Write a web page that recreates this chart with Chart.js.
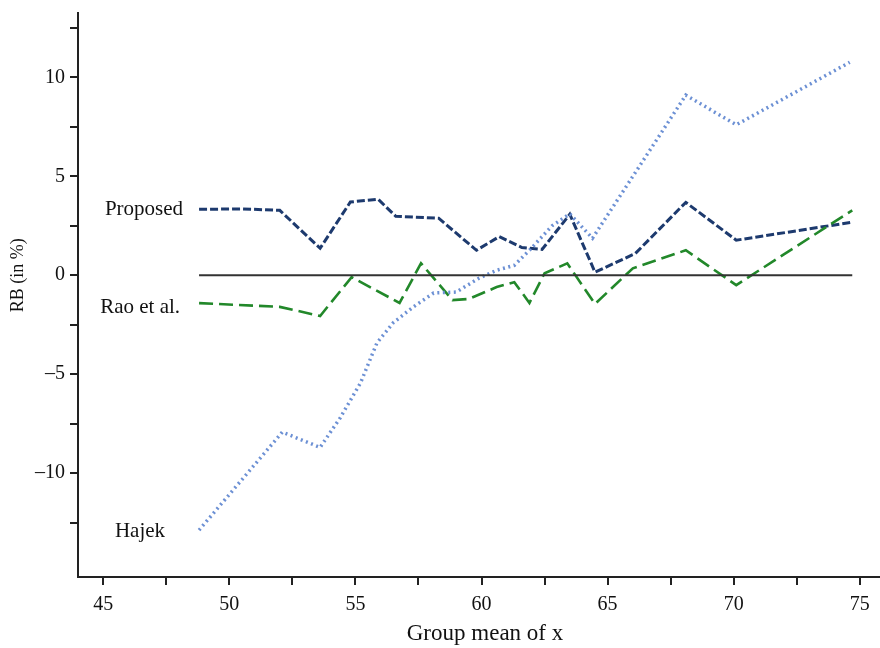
<!DOCTYPE html>
<html>
<head>
<meta charset="utf-8">
<script src="https://cdn.jsdelivr.net/npm/chart.js@4/dist/chart.umd.min.js"></script>
<style>
  html, body { margin: 0; padding: 0; background: #ffffff; }
  #wrap { width: 880px; height: 648px; }
</style>
</head>
<body>
<div id="wrap"><canvas id="c" width="880" height="648"></canvas></div>
<script>
// ---- data ----
const seriesNames = ["Proposed", "Rao et al.", "Hajek"];

const proposedX = [48.8, 50.5, 52.0, 53.6, 54.8, 55.9, 56.6, 58.3, 59.8, 60.7, 61.6, 62.4, 63.5, 64.5, 66.1, 68.1, 70.1, 74.7];
const proposedY = [3.33, 3.35, 3.28, 1.36, 3.70, 3.84, 2.98, 2.88, 1.26, 1.95, 1.40, 1.30, 3.08, 0.15, 1.10, 3.68, 1.77, 2.68];

const raoX = [48.8, 52.0, 53.6, 54.85, 56.75, 57.6, 58.85, 59.5, 60.6, 61.3, 61.9, 62.5, 63.4, 64.5, 66.0, 68.1, 70.1, 74.7];
const raoY = [-1.41, -1.6, -2.06, -0.1, -1.4, 0.6, -1.26, -1.2, -0.6, -0.35, -1.4, 0.1, 0.6, -1.45, 0.35, 1.26, -0.5, 3.28];

const hajekX = [48.8, 52.1, 53.6, 54.4, 55.2, 55.85, 56.5, 57.3, 58.1, 59.0, 59.9, 60.6, 61.3, 61.9, 62.8, 63.5, 64.4, 68.1, 70.1, 74.6];
const hajekY = [-12.88, -7.93, -8.7, -7.2, -5.45, -3.43, -2.4, -1.6, -0.9, -0.85, -0.15, 0.25, 0.5, 1.26, 2.5, 3.1, 1.87, 9.1, 7.6, 10.76];

const zeroX = [48.8, 74.7];
const zeroY = [0, 0];

const xTicks = [45, 47.5, 50, 52.5, 55, 57.5, 60, 62.5, 65, 67.5, 70, 72.5, 75];
const xTickLabels = ["45", "", "50", "", "55", "", "60", "", "65", "", "70", "", "75"];
const yTicks = [-12.5, -10, -7.5, -5, -2.5, 0, 2.5, 5, 7.5, 10, 12.5];
const yTickLabels = ["", "\u201310", "", "\u20135", "", "0", "", "5", "", "10", ""];

const xTitle = "Group mean of x";
const yTitle = "RB (in %)";

// ---- helpers ----
const pts = (xs, ys) => xs.map((x, i) => ({ x: x, y: ys[i] }));
const FONT = "'Liberation Serif', 'DejaVu Serif', serif";
const AXIS = "#222222";
// label placement offsets (styling only): [dx from line start, dy]
const labelOffsets = { "Proposed": [-16, 0], "Rao et al.": [-19, 4], "Hajek": [-34, 1] };

const textPlugin = {
  id: "texts",
  afterDatasetsDraw(chart) {
    const ctx = chart.ctx;
    const xs = chart.scales.x, ys = chart.scales.y;
    ctx.save();
    ctx.fillStyle = "#111111";
    ctx.textBaseline = "middle";
    ctx.font = "21px " + FONT;
    ctx.textAlign = "right";
    chart.data.datasets.forEach(ds => {
      if (!ds.endLabel) return;
      const p = ds.data[0];
      const o = labelOffsets[ds.endLabel] || [-15, 0];
      ctx.fillText(ds.endLabel, xs.getPixelForValue(p.x) + o[0], ys.getPixelForValue(p.y) + o[1]);
    });
    // x axis title
    ctx.textAlign = "center";
    ctx.font = "23px " + FONT;
    ctx.fillText(xTitle, 485, 634);
    // y axis title
    ctx.font = "18px " + FONT;
    ctx.translate(18, ys.getPixelForValue(0));
    ctx.rotate(-Math.PI / 2);
    ctx.fillText(yTitle, 0, 0);
    ctx.restore();
  }
};

const tickFont = (labels) => (c) => ({ family: FONT, size: (labels[c.index] ? 20 : 2) });

new Chart(document.getElementById("c"), {
  type: "line",
  data: {
    datasets: [
      { label: "zero", data: pts(zeroX, zeroY), borderColor: "#333333", borderWidth: 2, pointRadius: 0 },
      { label: seriesNames[2], endLabel: seriesNames[2], data: pts(hajekX, hajekY), borderColor: "#6c90d4", borderWidth: 3.5, borderDash: [2, 3.5], pointRadius: 0 },
      { label: seriesNames[1], endLabel: seriesNames[1], data: pts(raoX, raoY), borderColor: "#22882a", borderWidth: 2.6, borderDash: [14, 6], pointRadius: 0 },
      { label: seriesNames[0], endLabel: seriesNames[0], data: pts(proposedX, proposedY), borderColor: "#1d3a6e", borderWidth: 3, borderDash: [8, 3], pointRadius: 0 }
    ]
  },
  options: {
    responsive: false,
    animation: false,
    devicePixelRatio: 1,
    layout: { padding: { top: 13, right: 0, left: 0, bottom: 0 } },
    elements: { line: { tension: 0, fill: false } },
    plugins: { legend: { display: false }, tooltip: { enabled: false } },
    scales: {
      x: {
        type: "linear",
        min: 44.0,
        max: 75.8,
        afterBuildTicks: s => { s.ticks = xTicks.map(v => ({ value: v })); },
        afterFit: s => { s.height = 71; },
        ticks: {
          autoSkip: false, maxRotation: 0, padding: 8, color: "#111111",
          font: tickFont(xTickLabels),
          callback: (v) => { const i = xTicks.indexOf(v); return i >= 0 ? xTickLabels[i] : ""; }
        },
        grid: { drawOnChartArea: false, drawTicks: true, tickLength: 8, color: AXIS, lineWidth: 2 },
        border: { display: true, color: AXIS, width: 2 },
        title: { display: false }
      },
      y: {
        type: "linear",
        min: -15.25,
        max: 13.25,
        afterBuildTicks: s => { s.ticks = yTicks.map(v => ({ value: v })); },
        afterFit: s => { s.width = 78; },
        ticks: {
          autoSkip: false, padding: 5, color: "#111111",
          font: tickFont(yTickLabels),
          callback: (v) => { const i = yTicks.indexOf(v); return i >= 0 ? yTickLabels[i] : ""; }
        },
        grid: { drawOnChartArea: false, drawTicks: true, tickLength: 8, color: AXIS, lineWidth: 2 },
        border: { display: true, color: AXIS, width: 2 }
      }
    }
  },
  plugins: [textPlugin]
});
</script>
</body>
</html>
